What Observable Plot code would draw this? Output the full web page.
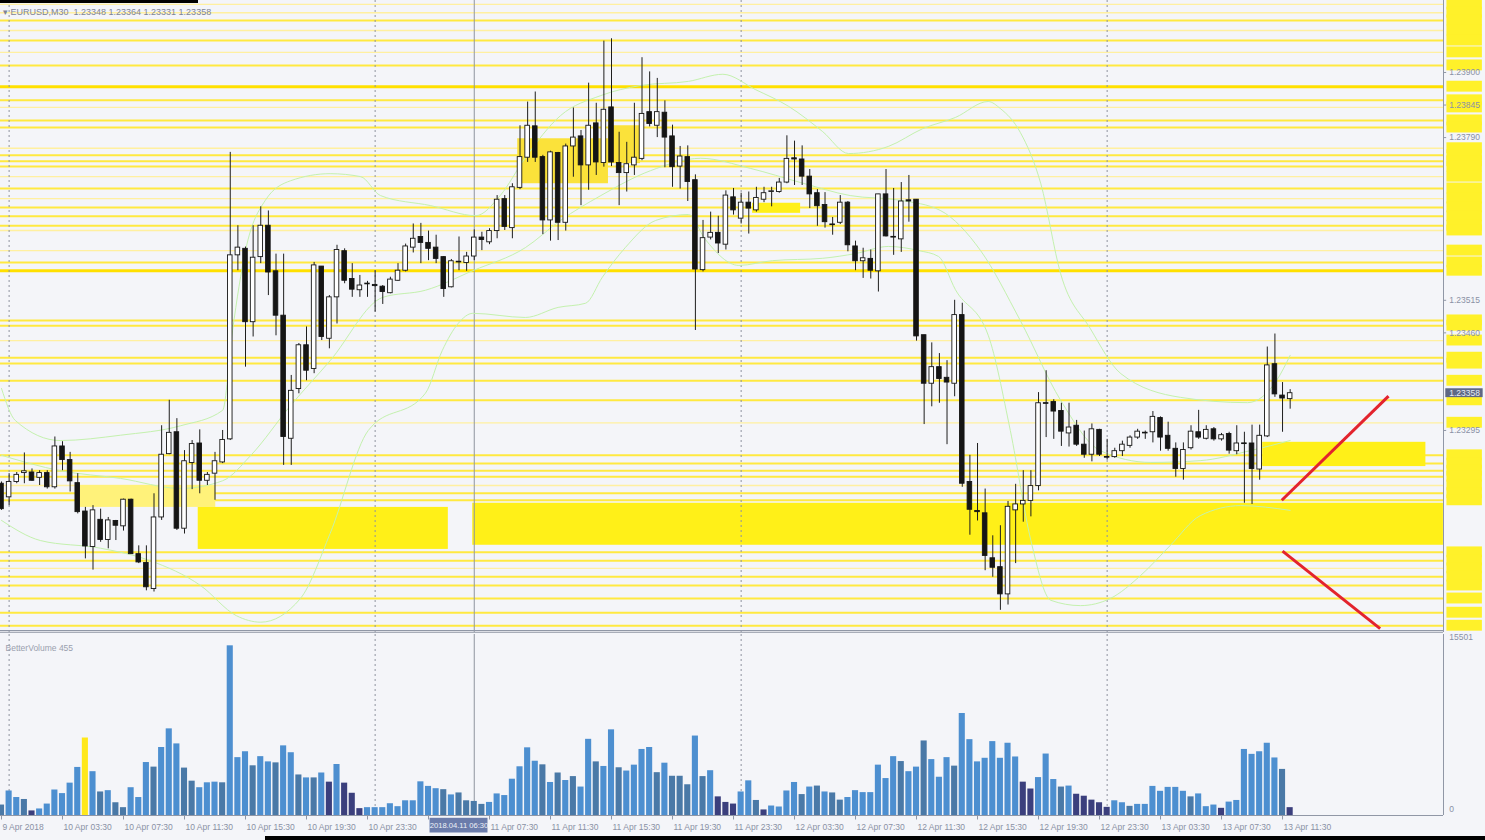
<!DOCTYPE html>
<html><head><meta charset="utf-8">
<script src="https://cdn.jsdelivr.net/npm/d3@7"></script>
<script src="https://cdn.jsdelivr.net/npm/@observablehq/plot@0.6"></script>
<style>
html,body{margin:0;padding:0;background:#f4f5f9;}
#wrap{position:relative;width:1485px;height:840px;overflow:hidden;background:#f4f5f9;font-family:"Liberation Sans",Arial,sans-serif;}
#main{position:absolute;left:0;top:0;}
#vol{position:absolute;left:0;top:632px;}
#title{position:absolute;left:3px;top:7px;font-size:9px;color:#7d8496;white-space:pre;}
.blk{position:absolute;background:#000;}
</style></head>
<body>
<div id="wrap">
  <div id="main"></div>
  <div id="vol"></div>
  <div id="title">▾ EURUSD,M30  1.23348 1.23364 1.23331 1.23358</div>
  <div class="blk" style="left:0;top:0;width:198px;height:3px"></div>
  <div class="blk" style="left:265px;top:836px;width:1220px;height:4px"></div>
</div>
<script>
// ---------- DATA (M30 bars, index 0 = 9 Apr 23:30) ----------
const open = [
1.23205,1.23182,1.23208,1.23223,1.23224,1.23215,1.23223,1.23199,1.23268,1.23245,
1.23206,1.23158,1.23098,1.23144,1.23110,1.23142,1.23133,1.23178,1.23086,1.23071,
1.23027,1.23148,1.23255,1.23292,1.23129,1.23240,1.23273,1.23210,1.23222,1.23241,
1.23280,1.23591,1.23602,1.23478,1.23588,1.23641,1.23564,1.23489,1.23281,1.23365,
1.23439,1.23399,1.23572,1.23450,1.23520,1.23598,1.23551,1.23532,1.23542,1.23541,
1.23538,1.23527,1.23548,1.23565,1.23604,1.23622,1.23612,1.23604,1.23588,1.23537,
1.23579,1.23578,1.23589,1.23621,1.23613,1.23632,1.23686,1.23637,1.23705,1.23756,
1.23809,1.23757,1.23650,1.23764,1.23646,1.23775,1.23792,1.23743,1.23814,1.23747,
1.23841,1.23747,1.23730,1.23743,1.23754,1.23833,1.23810,1.23832,1.23792,1.23741,
1.23757,1.23718,1.23566,1.23621,1.23629,1.23609,1.23689,1.23653,1.23680,1.23667,
1.23685,1.23698,1.23698,1.23714,1.23755,1.23753,1.23724,1.23696,1.23676,1.23643,
1.23646,1.23680,1.23606,1.23581,1.23585,1.23564,1.23694,1.23622,1.23618,1.23684,
1.23685,1.23456,1.23374,1.23402,1.23384,1.23374,1.23490,1.23208,1.23159,1.23155,
1.23079,1.23064,1.23018,1.23160,1.23170,1.23176,1.23201,1.23341,1.23343,1.23328,
1.23290,1.23303,1.23271,1.23254,1.23296,1.23250,1.23250,1.23260,1.23269,1.23283,
1.23291,1.23292,1.23316,1.23286,1.23264,1.23230,1.23265,1.23292,1.23281,1.23297,
1.23280,1.23289,1.23260,1.23273,1.23273,1.23229,1.23285,1.23407,1.23354,1.23348];
const high = [
1.23208,1.23222,1.23224,1.23257,1.23230,1.23227,1.23227,1.23284,1.23276,1.23258,
1.23222,1.23165,1.23168,1.23162,1.23148,1.23143,1.23179,1.23179,1.23100,1.23100,
1.23188,1.23303,1.23346,1.23315,1.23261,1.23278,1.23296,1.23224,1.23258,1.23295,
1.23765,1.23641,1.23605,1.23641,1.23673,1.23666,1.23593,1.23593,1.23388,1.23442,
1.23470,1.23579,1.23572,1.23523,1.23608,1.23602,1.23577,1.23557,1.23547,1.23565,
1.23540,1.23554,1.23577,1.23610,1.23644,1.23645,1.23632,1.23625,1.23589,1.23584,
1.23622,1.23596,1.23634,1.23630,1.23636,1.23692,1.23692,1.23712,1.23810,1.23850,
1.23867,1.23760,1.23767,1.23765,1.23779,1.23840,1.23802,1.23882,1.23848,1.23953,
1.23957,1.23799,1.23782,1.23848,1.23925,1.23901,1.23890,1.23852,1.23811,1.23775,
1.23776,1.23727,1.23650,1.23664,1.23657,1.23700,1.23704,1.23696,1.23698,1.23706,
1.23706,1.23706,1.23721,1.23793,1.23784,1.23776,1.23736,1.23702,1.23697,1.23655,
1.23692,1.23682,1.23615,1.23603,1.23600,1.23694,1.23736,1.23704,1.23714,1.23726,
1.23685,1.23456,1.23443,1.23425,1.23413,1.23515,1.23510,1.23253,1.23273,1.23196,
1.23117,1.23134,1.23175,1.23204,1.23227,1.23227,1.23359,1.23396,1.23347,1.23341,
1.23341,1.23312,1.23294,1.23306,1.23297,1.23280,1.23265,1.23277,1.23286,1.23297,
1.23294,1.23327,1.23318,1.23309,1.23274,1.23274,1.23303,1.23329,1.23303,1.23300,
1.23290,1.23292,1.23303,1.23292,1.23304,1.23304,1.23436,1.23458,1.23376,1.23364];
const low = [
1.23160,1.23168,1.23205,1.23205,1.23209,1.23202,1.23196,1.23196,1.23227,1.23191,
1.23154,1.23078,1.23059,1.23106,1.23095,1.23109,1.23125,1.23086,1.23070,1.23024,
1.23022,1.23143,1.23254,1.23126,1.23120,1.23195,1.23188,1.23202,1.23177,1.23239,
1.23278,1.23565,1.23402,1.23453,1.23577,1.23523,1.23455,1.23236,1.23236,1.23357,
1.23379,1.23391,1.23447,1.23433,1.23475,1.23543,1.23520,1.23520,1.23520,1.23495,
1.23508,1.23526,1.23547,1.23563,1.23595,1.23577,1.23582,1.23577,1.23520,1.23536,
1.23565,1.23564,1.23582,1.23599,1.23609,1.23619,1.23633,1.23619,1.23702,1.23748,
1.23748,1.23626,1.23615,1.23616,1.23632,1.23723,1.23675,1.23701,1.23726,1.23740,
1.23741,1.23675,1.23698,1.23726,1.23751,1.23808,1.23790,1.23739,1.23706,1.23703,
1.23682,1.23464,1.23563,1.23617,1.23594,1.23600,1.23659,1.23644,1.23627,1.23664,
1.23680,1.23673,1.23696,1.23712,1.23709,1.23709,1.23670,1.23640,1.23637,1.23625,
1.23643,1.23597,1.23565,1.23552,1.23551,1.23529,1.23622,1.23591,1.23596,1.23647,
1.23446,1.23305,1.23335,1.23341,1.23271,1.23352,1.23199,1.23118,1.23142,1.23058,
1.23047,1.22991,1.23000,1.23070,1.23140,1.23149,1.23193,1.23283,1.23280,1.23268,
1.23267,1.23268,1.23248,1.23242,1.23251,1.23245,1.23248,1.23251,1.23265,1.23280,
1.23280,1.23274,1.23260,1.23260,1.23216,1.23211,1.23262,1.23280,1.23279,1.23277,
1.23277,1.23255,1.23254,1.23172,1.23170,1.23211,1.23283,1.23351,1.23292,1.23331];
const close = [
1.23162,1.23208,1.23220,1.23226,1.23210,1.23223,1.23199,1.23268,1.23245,1.23209,
1.23157,1.23099,1.23160,1.23110,1.23143,1.23134,1.23178,1.23086,1.23072,1.23030,
1.23148,1.23254,1.23291,1.23129,1.23243,1.23272,1.23210,1.23220,1.23243,1.23279,
1.23591,1.23604,1.23478,1.23587,1.23641,1.23562,1.23489,1.23284,1.23362,1.23439,
1.23396,1.23574,1.23453,1.23520,1.23600,1.23548,1.23533,1.23540,1.23543,1.23539,
1.23529,1.23550,1.23565,1.23606,1.23619,1.23612,1.23602,1.23585,1.23534,1.23581,
1.23580,1.23589,1.23621,1.23617,1.23632,1.23685,1.23639,1.23706,1.23757,1.23810,
1.23756,1.23650,1.23765,1.23646,1.23775,1.23790,1.23743,1.23810,1.23748,1.23837,
1.23748,1.23730,1.23745,1.23756,1.23830,1.23813,1.23833,1.23790,1.23740,1.23758,
1.23715,1.23567,1.23620,1.23629,1.23611,1.23692,1.23667,1.23680,1.23670,1.23688,
1.23696,1.23699,1.23714,1.23754,1.23753,1.23724,1.23694,1.23674,1.23647,1.23642,
1.23680,1.23608,1.23581,1.23586,1.23565,1.23694,1.23623,1.23621,1.23682,1.23682,
1.23454,1.23374,1.23402,1.23382,1.23376,1.23490,1.23205,1.23161,1.23157,1.23083,
1.23063,1.23018,1.23166,1.23170,1.23176,1.23201,1.23341,1.23340,1.23327,1.23293,
1.23300,1.23271,1.23254,1.23297,1.23254,1.23249,1.23260,1.23271,1.23283,1.23293,
1.23290,1.23318,1.23283,1.23264,1.23230,1.23262,1.23293,1.23283,1.23296,1.23280,
1.23287,1.23261,1.23273,1.23272,1.23230,1.23286,1.23405,1.23356,1.23349,1.23358];

const volume = [
896,2100,1540,1372,392,560,980,2184,1876,2772,
4116,6636,3752,2016,2128,1092,672,2380,1540,4536,
4144,5824,7420,6132,4060,2940,2380,2800,2856,2800,
14532,4956,5460,4256,5040,4592,4508,5964,5376,3472,
3220,3220,3640,2856,4368,2772,1904,588,672,672,
672,1008,756,1260,1260,2884,2492,2296,2212,1764,
1932,1260,1204,952,1120,1848,1708,3108,4172,5796,
4648,4340,2828,3640,2996,3332,2436,6524,4592,4200,
7336,4088,3808,4312,5656,5824,3668,4480,3360,3360,
2632,6804,3332,3836,1596,1120,980,2016,2968,1288,
476,812,728,2100,2828,1792,2436,2520,2016,1932,
1316,1540,2128,1960,1960,4312,3164,5040,4620,3752,
4144,6384,4788,3276,4956,4228,8736,6496,4592,4900,
6328,4900,6188,5012,2856,2268,3248,5264,3080,2436,
2520,1820,1652,1316,1092,700,1260,1092,784,952,
952,2492,2072,2408,2408,2072,1596,1848,756,896,
616,1148,1288,5656,5236,5460,6188,4928,3948,672];
// volume bar class: b = normal, s = steel, n = low, y = marked
const volClass = "sbbsnbbbbb"+"bybsbssbbb"+"sbbbssbbbs"+"bbbsbbsbbs"+"bsbnbnnnbb"+
                 "bbbbbbbbsb"+"ssssbbbbbb"+"bsbsbsbbsb"+"bsbbbbsbss"+"sbsbnnnbbs"+
                 "nbbbbsbsbs"+"sbbbbbbbsb"+"bsbbbsbbbb"+"bbbbnnbbbs"+"bnnnnnbbsb"+
                 "bbbbbbsbbb"+"nbbbbbbbsn";
const volMax = 15501;

// horizontal support/resistance levels (price) and weight 1 pale, 2 normal, 3 strong
const levelPrices = [1.24015,1.24001,1.23988,1.23971,1.23954,1.23934,1.23912,1.23876,1.23853,1.23841,
  1.23819,1.23807,1.23772,1.23760,1.23750,1.23741,1.23724,1.23704,1.23687,1.23672,
  1.23657,1.23641,1.23633,1.23599,1.23579,1.23565,1.23481,1.23472,1.23447,1.23418,
  1.23408,1.23379,1.23346,1.23308,1.23253,1.23239,1.23227,1.23217,1.23202,1.23189,
  1.23177,1.23089,1.23075,1.23062,1.23048,1.23033,1.23011,1.22987,1.22965];
const levelWeights = [1,1,2,1,2,1,2,3,2,1, 2,2,1,2,2,2,1,2,1,2, 2,2,1,1,2,3,2,2,1,2, 2,2,2,1,2,2,2,2,1,2, 2,2,2,1,2,2,2,2,2];

// yellow zones: bar index range and price range
const zoneX1 = [9.7, 25.8, 61.8, 165.4, 67.7, 79.6, 98.5];
const zoneX2 = [28.1, 58.6, 189.1, 186.8, 79.6, 83.8, 104.8];
const zoneTop = [1.23202, 1.23165, 1.23172, 1.23275, 1.23788, 1.23810, 1.23679];
const zoneBottom = [1.23165, 1.23094, 1.23101, 1.23234, 1.23712, 1.23746, 1.23662];
const zoneFill = ["#fff27a", "#fff018", "#fff018", "#fff018", "#fbe23a", "#fbe23a", "#fff018"];

// Bollinger band knots: [bar index, price]
const upperBand = [[0,1.23366],[1.8,1.23312],[7.7,1.23278],[15.6,1.23287],[23.5,1.23303],[29.0,1.23329],
 [30.3,1.23464],[32.0,1.23599],[34.6,1.23684],[37.9,1.23717],[43.1,1.23729],[47.1,1.23724],[49.7,1.23692],
 [56.3,1.23675],[62.2,1.23658],[65.4,1.23692],[68.7,1.23756],[73.3,1.23827],[78.6,1.23861],[83.8,1.23878],
 [90.1,1.23885],[94.6,1.23897],[98.9,1.23871],[103.2,1.23843],[107.7,1.23800],[111.1,1.23763],[116.3,1.23775],
 [120.8,1.23805],[125.1,1.23824],[129.4,1.23851],[131.0,1.23839],[133.6,1.23799],[136.3,1.23712],[138.9,1.23560],
 [142.8,1.23467],[146.8,1.23391],[154.6,1.23351],[163.4,1.23342],[167.2,1.23379],[169.0,1.23422]];
const middleBand = [[0,1.23253],[7.7,1.23227],[15.6,1.23214],[23.5,1.23197],[29.0,1.23210],[32.7,1.23253],
 [37.9,1.23337],[43.1,1.23413],[50.0,1.23520],[55.6,1.23532],[61.8,1.23565],[68.7,1.23604],[73.3,1.23650],
 [78.6,1.23692],[85.1,1.23734],[91.7,1.23755],[98.2,1.23738],[104.8,1.23714],[111.3,1.23692],[117.9,1.23684],
 [123.1,1.23667],[128.4,1.23599],[133.6,1.23481],[138.9,1.23346],[144.1,1.23261],[150.7,1.23241],
 [157.2,1.23244],[163.8,1.23261],[169.0,1.23278]];
const lowerBand = [[0,1.23143],[5.1,1.23109],[13.0,1.23096],[19.5,1.23075],[26.1,1.23033],[30.8,1.22982],
 [34.0,1.22971],[39.2,1.23011],[43.1,1.23121],[48.1,1.23295],[55.6,1.23358],[57.8,1.23430],[59.9,1.23476],
 [61.8,1.23493],[68.7,1.23486],[73.0,1.23503],[76.6,1.23510],[78.8,1.23554],[81.8,1.23604],[85.8,1.23650],
 [90.1,1.23660],[92.3,1.23618],[96.7,1.23574],[101.1,1.23582],[107.7,1.23586],[112.0,1.23594],[116.3,1.23606],
 [120.3,1.23599],[122.9,1.23589],[125.1,1.23533],[129.4,1.23456],[132.3,1.23295],[135.0,1.23109],
 [137.6,1.23008],[141.5,1.22999],[145.4,1.23011],[149.4,1.23050],[153.3,1.23101],[157.2,1.23151],
 [162.5,1.23168],[169.0,1.23160]];

// red hand-drawn lines: [index1, price1, index2, price2]
const redLines = [[167.9,1.23177,181.9,1.23353],[168.0,1.23091,180.8,1.22960]];

// axes
const priceTicks = [1.23900, 1.23845, 1.23790, 1.23515, 1.23460, 1.23295];
const daySeparators = [1, 49, 97, 145];
// the 11 Apr 03:30 label (index 56) sits under the crosshair date box, as in the original
const tickIdx = [0,8,16,24,32,40,48,64,72,80,88,96,104,112,120,128,136,144,152,160,168];
const tickText = ["9 Apr 2018","10 Apr 03:30","10 Apr 07:30","10 Apr 11:30","10 Apr 15:30","10 Apr 19:30",
 "10 Apr 23:30","11 Apr 07:30","11 Apr 11:30","11 Apr 15:30","11 Apr 19:30","11 Apr 23:30",
 "12 Apr 03:30","12 Apr 07:30","12 Apr 11:30","12 Apr 15:30","12 Apr 19:30","12 Apr 23:30","13 Apr 03:30",
 "13 Apr 07:30","13 Apr 11:30"];
const crossIdx = 62;
const crossLabel = "2018.04.11 06:30";
const lastPrice = 1.23358;

// ---------- BUILD ----------
const X0 = -0.131, X1 = 189.11;
const PT = 1.2402168, PB = 1.2295357;
const FONT = "Liberation Sans, Arial, sans-serif";
const GRID = "#8e939f";
const AXC = "#8a91a5";

const candles = open.map((o,i)=>({i, o, h:high[i], l:low[i], c:close[i]}));
const levels = levelPrices.map((p,k)=>({p, w:levelWeights[k]}));
const zones = zoneX1.map((x1,k)=>({x1, x2:zoneX2[k], y1:zoneBottom[k], y2:zoneTop[k], f:zoneFill[k]}));
const bands = [
  ...upperBand.map(([i,p])=>({i,p,b:"u"})),
  ...middleBand.map(([i,p])=>({i,p,b:"m"})),
  ...lowerBand.map(([i,p])=>({i,p,b:"l"}))];
const reds = redLines.map(([a,b,c,d])=>({a,b,c,d}));
const tagH = 0.000092;
const minBody = 0.000012;

const mainPlot = Plot.plot({
  width:1485, height:632, marginLeft:0, marginRight:42, marginTop:0, marginBottom:0,
  x:{domain:[X0,X1], axis:null},
  y:{domain:[PB,PT], axis:null},
  style:{background:"transparent", fontFamily:FONT, overflow:"visible"},
  marks:[
    Plot.ruleY(levels.filter(d=>d.w===1), {y:"p", stroke:"#fff0a0", strokeWidth:1.3}),
    Plot.ruleY(levels.filter(d=>d.w===2), {y:"p", stroke:"#ffe940", strokeWidth:2}),
    Plot.ruleY(levels.filter(d=>d.w===3), {y:"p", stroke:"#ffe000", strokeWidth:3}),
    Plot.rect(zones, {x1:"x1", x2:"x2", y1:"y1", y2:"y2", fill:"f"}),
    Plot.ruleX(daySeparators, {stroke:GRID, strokeDasharray:"2,3", strokeWidth:1}),
    Plot.ruleX([crossIdx], {stroke:"#8f949f", strokeWidth:1}),
    Plot.line(bands, {x:"i", y:"p", z:"b", stroke:"#c4f1ae", strokeWidth:1, curve:"monotone-x"}),
    Plot.ruleX(candles, {x:"i", y1:"l", y2:"h", stroke:"#1e1e1e", strokeWidth:1}),
    Plot.rect(candles, {
      x1:d=>d.i-0.3, x2:d=>d.i+0.3,
      y1:d=>Math.min(d.o,d.c),
      y2:d=>Math.max(d.o,d.c,Math.min(d.o,d.c)+minBody),
      fill:d=>d.c>=d.o ? "#ffffff" : "#151515", stroke:"#151515", strokeWidth:0.9}),
    Plot.link(reds, {x1:"a", y1:"b", x2:"c", y2:"d", stroke:"#e3232d", strokeWidth:3}),
    Plot.ruleX([X1], {stroke:"#9097a6", strokeWidth:1}),
    Plot.ruleY([PB+0.00003], {stroke:"#9097a6", strokeWidth:1.2}),
    Plot.rect(levels, {x1:X1+0.45, x2:X1+5.1, y1:d=>d.p-tagH, y2:d=>d.p+tagH, fill:"#fff12a"}),
    Plot.link(priceTicks, {x1:X1, x2:X1+0.35, y1:d=>d, y2:d=>d, stroke:"#9097a6"}),
    Plot.text(priceTicks, {x:X1+0.75, y:d=>d, text:d=>d.toFixed(5), textAnchor:"start", fontSize:8.5, fill:AXC}),
    Plot.rect([lastPrice], {x1:X1+0.3, x2:X1+5.2, y1:d=>d-0.000075, y2:d=>d+0.000075, fill:"#5f6884"}),
    Plot.text([lastPrice], {x:X1+0.75, y:d=>d, text:d=>d.toFixed(5), textAnchor:"start", fontSize:8.5, fill:"#e8ebf3"})
  ]
});
document.getElementById("main").appendChild(mainPlot);

const volColors = {b:"#4d8fd0", s:"#4a79a7", n:"#3b3f7d", y:"#ffe81a"};
const vols = volume.map((v,i)=>({i, v, k:volClass[i]}));
const pxV = volMax/181;
const volPlot = Plot.plot({
  width:1485, height:208, marginLeft:0, marginRight:42, marginTop:2, marginBottom:25,
  x:{domain:[X0,X1], axis:null},
  y:{domain:[0,volMax], axis:null},
  style:{background:"transparent", fontFamily:FONT, overflow:"visible"},
  marks:[
    Plot.ruleX(daySeparators, {stroke:GRID, strokeDasharray:"2,3", strokeWidth:1}),
    Plot.ruleX([crossIdx], {stroke:"#8f949f", strokeWidth:1}),
    Plot.rectY(vols, {x1:d=>d.i-0.4, x2:d=>d.i+0.4, y:"v", fill:d=>volColors[d.k]}),
    Plot.ruleY([0], {stroke:"#9097a6", strokeWidth:1}),
    Plot.ruleY([volMax+2*pxV], {stroke:"#a8adb8", strokeWidth:1}),
    Plot.ruleX([X1], {stroke:"#9097a6", strokeWidth:1}),
    Plot.text(["BetterVolume 455"], {frameAnchor:"top-left", dx:5, dy:10, textAnchor:"start", fontSize:8.5, fill:"#9aa0ae"}),
    Plot.text([volMax], {x:X1+0.75, y:d=>d, dy:3, text:d=>String(d), textAnchor:"start", fontSize:8.5, fill:AXC}),
    Plot.text([0], {x:X1+0.75, y:d=>d, dy:-6, text:d=>String(d), textAnchor:"start", fontSize:8.5, fill:AXC}),
    Plot.ruleX([...tickIdx, 56], {y1:0, y2:-4.5*pxV, stroke:"#9097a6"}),
    Plot.text(tickText, {x:(d,k)=>tickIdx[k], y:0, dy:12, dx:1, textAnchor:"start", fontSize:8.5, fill:AXC}),
    Plot.rect([crossLabel], {x1:56.2, x2:63.8, y1:-2.8*pxV, y2:-17.5*pxV, fill:"#6b7cab"}),
    Plot.text([crossLabel], {x:60.0, y:-10.2*pxV, text:d=>d, fontSize:7.6, fill:"#eef1f8"})
  ]
});
document.getElementById("vol").appendChild(volPlot);
</script>
</body></html>
